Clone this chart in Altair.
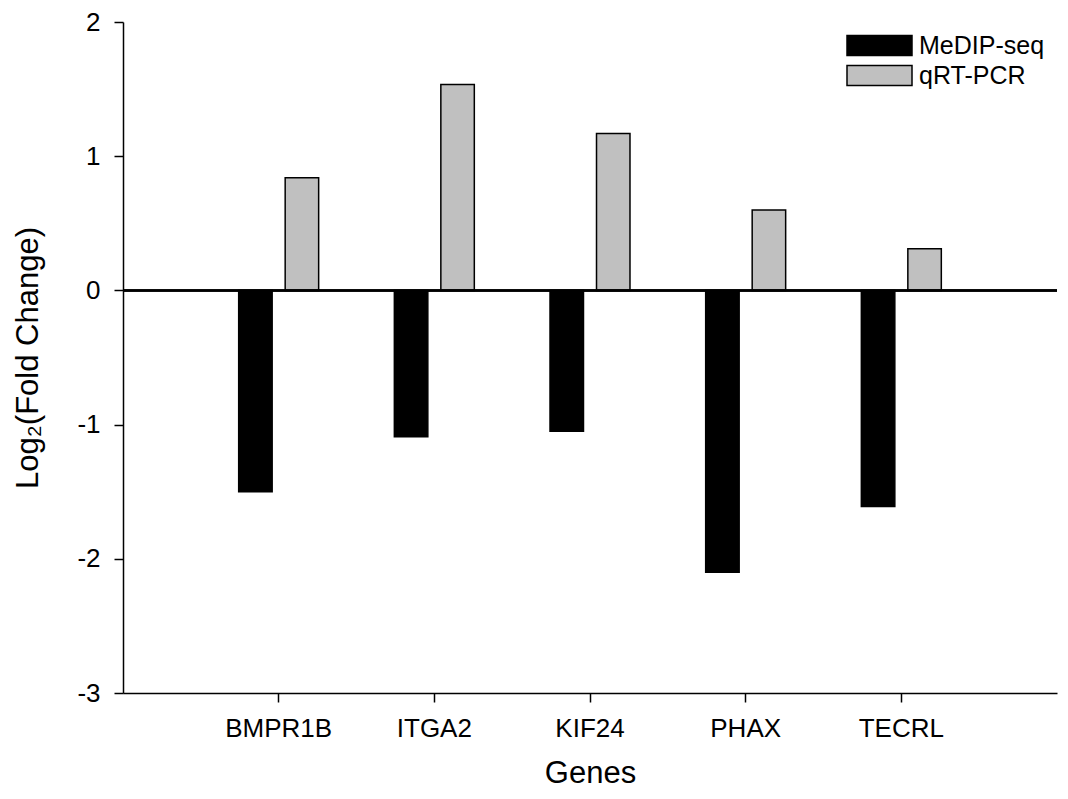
import altair as alt
import pandas as pd

genes = ["BMPR1B", "ITGA2", "KIF24", "PHAX", "TECRL"]
series = ["MeDIP-seq", "qRT-PCR"]
medip = [-1.50, -1.09, -1.05, -2.10, -1.61]
qrt = [0.84, 1.535, 1.17, 0.60, 0.31]
y_ticks = [-3, -2, -1, 0, 1, 2]

rows = []
for g, m, q in zip(genes, medip, qrt):
    rows.append({"gene": g, "series": series[0], "value": m})
    rows.append({"gene": g, "series": series[1], "value": q})
df = pd.DataFrame(rows)

FONT = "Liberation Sans"

bars = alt.Chart(df).mark_bar(stroke="black", strokeWidth=1.5, opacity=1).encode(
    x=alt.X(
        "gene:N",
        sort=genes,
        scale=alt.Scale(paddingInner=0, paddingOuter=0.5),
        axis=alt.Axis(
            title="Genes",
            labelAngle=0,
            tickSize=9,
            labelPadding=13,
            titlePadding=17,
            labelFontSize=26,
            titleFontSize=31,
        ),
    ),
    xOffset=alt.XOffset("series:N", sort=series,
                        scale=alt.Scale(paddingInner=0.28, paddingOuter=0.814)),
    y=alt.Y(
        "value:Q",
        scale=alt.Scale(domain=[-3, 2], nice=False, zero=False),
        axis=alt.Axis(
            title="Log₂(Fold Change)",
            values=y_ticks,
            labelExpr="'' + datum.value",
            tickSize=9,
            labelPadding=14,
            titlePadding=32,
            labelFontSize=26,
            titleFontSize=31,
            grid=False,
        ),
    ),
    fill=alt.Fill(
        "series:N",
        sort=series,
        scale=alt.Scale(domain=series, range=["#000000", "#c0c0c0"]),
        legend=alt.Legend(
            title=None,
            orient="none",
            legendX=744,
            legendY=11,
            padding=0,
            symbolType="M-3.25,-1L3.25,-1L3.25,1L-3.25,1Z",
            symbolSize=400,
            symbolStrokeColor="black",
            symbolStrokeWidth=1.5,
            symbolOpacity=1,
            labelFontSize=25,
            labelOffset=27,
            rowPadding=3,
        ),
    ),
)

zero = alt.Chart(df).mark_rule(color="black", strokeWidth=1.5).encode(
    y=alt.datum(0)
)

chart = (
    alt.layer(bars, zero)
    .properties(
        width=934,
        height=671,
        autosize=alt.AutoSizeParams(type="none"),
        padding={"left": 115, "top": 14, "right": 2, "bottom": 96},
    )
    .configure(font=FONT)
    .configure_view(stroke="transparent")
    .configure_axis(
        domainColor="black",
        domainWidth=1.5,
        tickColor="black",
        tickWidth=1.5,
        labelColor="black",
        titleColor="black",
        labelFont=FONT,
        titleFont=FONT,
        titleFontWeight="normal",
    )
    .configure_legend(labelFont=FONT, labelColor="black")
)

chart.save("out.html", embed_options={"renderer": "svg", "actions": False})
